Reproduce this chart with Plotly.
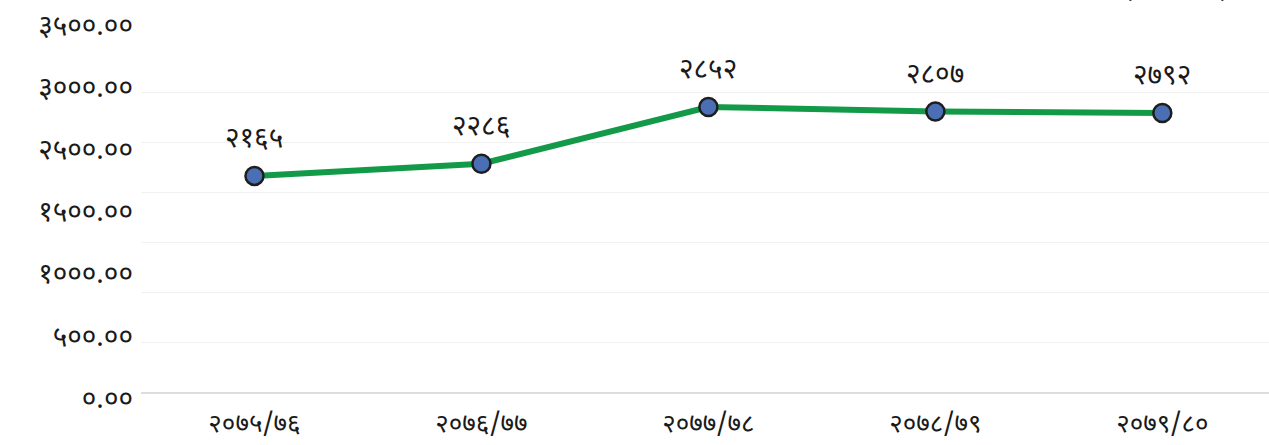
import plotly.graph_objects as go

categories = ["२०७५/७६", "२०७६/७७", "२०७७/७८", "२०७८/७९", "२०७९/८०"]
values = [2165, 2286, 2852, 2807, 2792]
value_labels = ["२१६५", "२२८६", "२८५२", "२८०७", "२७९२"]
ytick_text = ["०.००", "५००.००", "१०००.००", "१५००.००", "२५००.००", "३०००.००", "३५००.००"]
grid_vals = [0, 500, 1000, 1500, 2000, 2500, 3000, 3500]

W, H = 1269, 445
T, B = 20, 40
plot_h = H - T - B
def frac(p):
    return (H - B - p) / plot_h

FONT = "Noto Sans Devanagari, Noto Sans, sans-serif"

fig = go.Figure()
fig.add_trace(go.Scatter(
    x=categories, y=values, mode="lines+markers",
    line=dict(color="#129A48", width=6),
    marker=dict(size=18, color="#4A6FB5", line=dict(color="#1e1e1e", width=2.5)),
    hoverinfo="x+y", showlegend=False,
))
# invisible carrier for the label axis
fig.add_trace(go.Scatter(
    x=[categories[0]], y=[0], yaxis="y2", mode="markers",
    marker=dict(opacity=0), hoverinfo="skip", showlegend=False,
))

for c, v, t in zip(categories, values, value_labels):
    fig.add_annotation(x=c, y=v, text=t, showarrow=False, yshift=36,
                       font=dict(family=FONT, size=28, color="#1a1a1a"))

fig.add_annotation(xref="paper", yref="paper", x=0.965, y=frac(8), yanchor="bottom",
                   text="(रु. करोडमा)", showarrow=False,
                   font=dict(family=FONT, size=22, color="#333"))

fig.update_layout(
    width=W, height=H,
    margin=dict(l=141, r=0, t=T, b=B, autoexpand=False),
    paper_bgcolor="white", plot_bgcolor="rgba(0,0,0,0)",
    xaxis=dict(type="category", range=[-0.5, 4.47], showgrid=False, zeroline=False,
               showline=False, ticks="", ticklabelstandoff=12, automargin=False,
               tickfont=dict(family=FONT, size=26, color="#1a1a1a"), anchor="y"),
    yaxis=dict(domain=[frac(393), frac(42)], range=[0, 3500], tickvals=grid_vals,
               showticklabels=False, showgrid=True, gridcolor="#f1f1f1", gridwidth=1,
               zeroline=True, zerolinecolor="#dcdcdc", zerolinewidth=2, showline=False,
               automargin=False),
    yaxis2=dict(domain=[frac(398), frac(25)], range=[0, 6], anchor="free", position=0,
                tickvals=list(range(len(ytick_text))), ticktext=ytick_text,
                showgrid=False, zeroline=False, showline=False, ticks="",
                ticklabelstandoff=8, automargin=False,
                tickfont=dict(family=FONT, size=28, color="#1a1a1a")),
)

fig.write_html("out.html", config={"displayModeBar": False},
               post_script="document.body.style.margin='0px';")
